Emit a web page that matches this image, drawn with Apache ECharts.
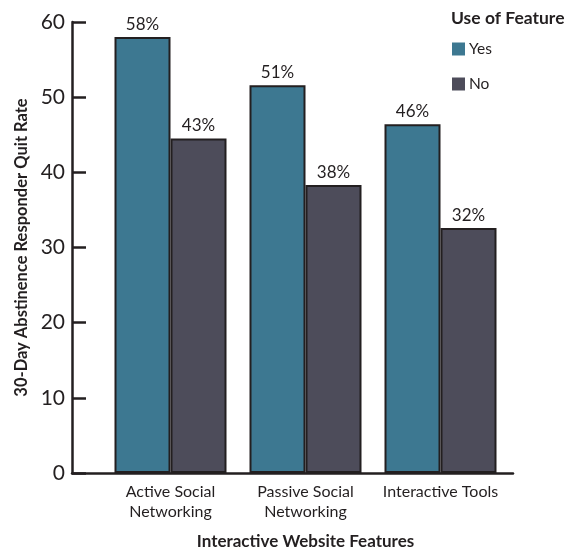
<!DOCTYPE html>
<html><head><meta charset="utf-8">
<script src="https://cdn.jsdelivr.net/npm/echarts@6/dist/echarts.min.js"></script>
<style>html,body{margin:0;padding:0;background:#fff}#c{width:565px;height:548px}</style>
</head><body><div id="c"></div>
<script>
const categories = ['Active Social\nNetworking', 'Passive Social\nNetworking', 'Interactive Tools'];
const yesValues = [58, 51.6, 46.4];
const noValues = [44.5, 38.3, 32.6];
const yesLabels = ['58%', '51%', '46%'];
const noLabels = ['43%', '38%', '32%'];
const yTicks = [0, 10, 20, 30, 40, 50, 60];

const FONT = 'Lato';
const DARK = '#231f20';
const chart = echarts.init(document.getElementById('c'), null, {renderer: 'canvas'});
chart.setOption({
  animation: false,
  textStyle: {fontFamily: FONT, color: DARK},
  title: {text: 'Use of Feature', left: 446, top: 4,
    textStyle: {fontFamily: FONT, fontWeight: 'bold', fontSize: 17.5, color: DARK}},
  legend: {orient: 'vertical', left: 447, top: 36, itemWidth: 13, itemHeight: 13, itemGap: 19,
    icon: 'rect', data: ['Yes', 'No'],
    itemStyle: {borderWidth: 0},
    textStyle: {fontFamily: FONT, fontSize: 15.5, color: DARK, padding: [0,0,0,-1]}},
  grid: [
    {left: 103, width: 405, top: 22, height: 451, outerBoundsMode: 'none', containLabel: false},
    {left: 72, width: 441, top: 22, height: 451, outerBoundsMode: 'none', containLabel: false}
  ],
  xAxis: [
    {type: 'category', gridIndex: 0, data: categories,
      axisLine: {show: false}, axisTick: {show: false},
      axisLabel: {interval: 0, hideOverlap: false, fontFamily: FONT, fontSize: 16, color: DARK, lineHeight: 20, margin: 9},
      name: 'Interactive Website Features', nameLocation: 'middle', nameGap: 60,
      nameTextStyle: {fontFamily: FONT, fontWeight: 'bold', fontSize: 17, color: DARK}},
    {type: 'value', gridIndex: 1, min: 0, max: 1, show: true,
      axisLine: {show: true, lineStyle: {color: DARK, width: 2.5}},
      axisTick: {show: false}, axisLabel: {show: false}, splitLine: {show: false}}
  ],
  yAxis: [
    {type: 'value', gridIndex: 0, min: yTicks[0], max: yTicks[yTicks.length-1], interval: 10, offset: 31,
      axisLine: {show: true, lineStyle: {color: DARK, width: 2.5}},
      axisTick: {show: true, inside: true, length: 14, lineStyle: {color: DARK, width: 2.5}},
      axisLabel: {fontFamily: FONT, fontSize: 21, color: DARK, margin: 7},
      splitLine: {show: false},
      name: '30-Day Abstinence Responder Quit Rate', nameLocation: 'middle', nameGap: 41,
      nameTextStyle: {fontFamily: FONT, fontWeight: 'bold', fontSize: 16.5, color: DARK}},
    {type: 'value', gridIndex: 1, show: false}
  ],
  series: [
    {name: 'Yes', type: 'bar', xAxisIndex: 0, yAxisIndex: 0, data: yesValues, barWidth: 56, barGap: '0%',
      itemStyle: {color: '#3d7891', borderColor: DARK, borderWidth: 2},
      label: {show: true, position: 'top', distance: 4, fontFamily: FONT, fontSize: 17, color: DARK,
        formatter: p => yesLabels[p.dataIndex]}},
    {name: 'No', type: 'bar', xAxisIndex: 0, yAxisIndex: 0, data: noValues, barWidth: 56, barGap: '0%',
      itemStyle: {color: '#4d4c5a', borderColor: DARK, borderWidth: 2},
      label: {show: true, position: 'top', distance: 4, fontFamily: FONT, fontSize: 17, color: DARK,
        formatter: p => noLabels[p.dataIndex]}}
  ]
});
</script></body></html>
